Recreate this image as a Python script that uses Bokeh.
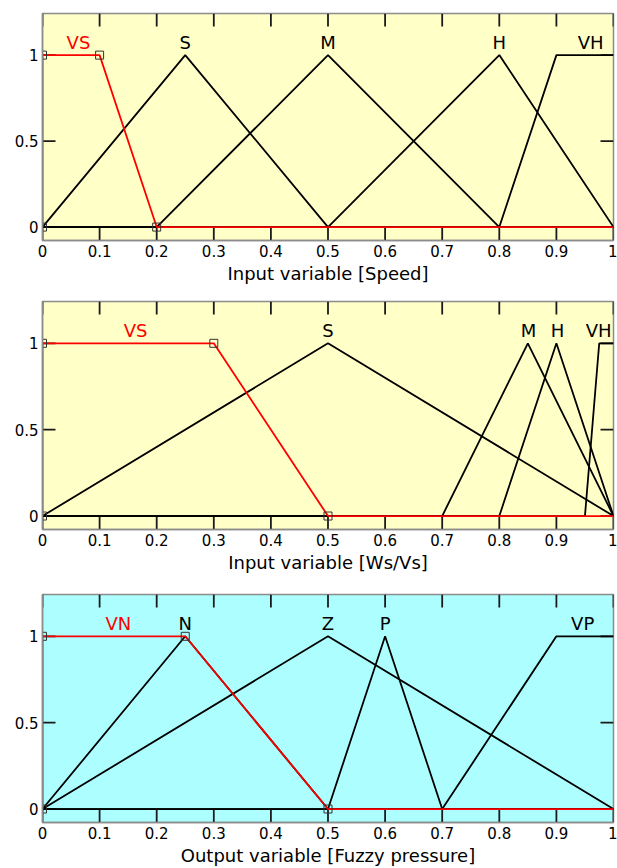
from bokeh.plotting import figure
from bokeh.layouts import column
from bokeh.models import (FixedTicker, CustomJSTickFormatter,
                          ColumnDataSource, Range1d)
from bokeh.core.properties import value
from bokeh.embed import file_html
from bokeh.resources import INLINE

# ---------------- data ----------------
x_ticks = [0, 0.1, 0.2, 0.3, 0.4, 0.5, 0.6, 0.7, 0.8, 0.9, 1.0]
y_ticks = [0, 0.5, 1]

# trapezoid breakpoints [a, b, c, d] of each membership function
speed_names = ["VS", "S", "M", "H", "VH"]
speed_params = [[0, 0, 0.1, 0.2], [0, 0.25, 0.25, 0.5], [0.2, 0.5, 0.5, 0.8],
                [0.5, 0.8, 0.8, 1.0], [0.8, 0.9, 1.0, 1.0]]
speed_label_x = [0.063, 0.25, 0.5, 0.8, 0.96]

ratio_names = ["VS", "S", "M", "H", "VH"]
ratio_params = [[0, 0, 0.3, 0.5], [0, 0.5, 0.5, 1.0], [0.7, 0.85, 0.85, 1.0],
                [0.8, 0.9, 0.9, 1.0], [0.95, 0.975, 1.0, 1.0]]
ratio_label_x = [0.163, 0.5, 0.851, 0.902, 0.974]

press_names = ["VN", "N", "Z", "P", "VP"]
press_params = [[0, 0, 0.25, 0.5], [0, 0.25, 0.25, 0.5], [0, 0.5, 0.5, 1.0],
                [0.5, 0.6, 0.6, 0.7], [0.7, 0.9, 1.0, 1.0]]
press_label_x = [0.133, 0.25, 0.5, 0.6, 0.946]

label_y = 1.075

FONT = "DejaVu Sans"
FRAME_COL = "#8c8c8c"
TICK_LEN = 13  # inward tick length in screen pixels
FIG_W, B_LEFT, B_RIGHT = 617, 42, 4
NAN = float("nan")


def mf_polyline(prm):
    a, b, c, d = prm
    if d >= 1.0 and c >= 1.0:
        return [0, a, b, 1.0], [0, 0, 1, 1]
    return [0, a, b, c, d, 1.0], [0, 0, 1, 1, 0, 0]


def fmt():
    return CustomJSTickFormatter(code="return String(Math.round(tick*10)/10);")


def tick_path(positions, start, length, vertical):
    """one broken polyline holding a short stroke for every tick position"""
    xs, ys = [], []
    for t in positions:
        if vertical:
            xs += [t, t, NAN]
            ys += [start, start + length, NAN]
        else:
            xs += [start, start + length, NAN]
            ys += [t, t, NAN]
    return xs[:-1], ys[:-1]


def make_panel(names, params, label_x, xlabel, bg, height, btop, bbottom):
    xr = Range1d(0, 1)
    yr = Range1d(-0.078, 1.242)
    p = figure(width=FIG_W, height=height, output_backend="svg",
               toolbar_location=None, x_range=xr, y_range=yr,
               min_border_left=B_LEFT, min_border_right=B_RIGHT,
               min_border_top=btop, min_border_bottom=bbottom)
    p.background_fill_color = bg
    p.border_fill_color = "white"
    p.outline_line_color = FRAME_COL
    p.outline_line_width = 1.5
    p.grid.visible = False

    for ax in (p.xaxis[0], p.yaxis[0]):
        ax.major_tick_in = 0
        ax.major_tick_out = 0
        ax.minor_tick_line_color = None
        ax.axis_line_color = FRAME_COL
        ax.axis_line_width = 1.5
        ax.major_label_text_font = FONT
        ax.major_label_text_font_size = "15px"
        ax.major_label_text_color = "black"
        ax.formatter = fmt()
    p.xaxis[0].ticker = FixedTicker(ticks=x_ticks)
    p.yaxis[0].ticker = FixedTicker(ticks=y_ticks)
    p.xaxis[0].major_label_standoff = 4
    p.yaxis[0].major_label_standoff = 4
    p.xaxis[0].axis_label = xlabel
    p.xaxis[0].axis_label_text_font = FONT
    p.xaxis[0].axis_label_text_font_size = "18px"
    p.xaxis[0].axis_label_text_font_style = "normal"
    p.xaxis[0].axis_label_text_color = "black"
    p.xaxis[0].axis_label_standoff = 3

    # inward tick marks on all four sides, TICK_LEN pixels long
    frame_h = height - btop - bbottom
    frame_w = FIG_W - B_LEFT - B_RIGHT
    dy = TICK_LEN * (yr.end - yr.start) / frame_h
    dx = TICK_LEN * (xr.end - xr.start) / frame_w
    for (pos, st, ln, vert) in ((x_ticks, yr.start, dy, True),
                                (x_ticks, yr.end, -dy, True),
                                (y_ticks, xr.start, dx, False),
                                (y_ticks, xr.end, -dx, False)):
        txs, tys = tick_path(pos, st, ln, vert)
        p.line(txs, tys, line_color="#1a1a1a", line_width=1.8)

    # black membership functions first, the selected (first) one in red on top
    for prm in params[1:]:
        xs, ys = mf_polyline(prm)
        p.line(xs, ys, line_color="black", line_width=1.8)
    xs, ys = mf_polyline(params[0])
    p.line(xs, ys, line_color="#ff0000", line_width=1.8)
    a, b, c, d = params[0]
    p.scatter([a, b, c, d], [0, 1, 1, 0], marker="square", size=8,
              fill_color=None, line_color="#333333", line_width=1)

    src = ColumnDataSource(dict(x=label_x, y=[label_y] * len(names), t=names,
                                c=["#ff0000"] + ["black"] * (len(names) - 1)))
    p.text(x="x", y="y", text="t", source=src, text_color="c",
           text_font=value(FONT), text_font_size=value("18px"),
           text_align="center", text_baseline="middle")
    return p


p1 = make_panel(speed_names, speed_params, speed_label_x,
                "Input variable [Speed]", "#ffffc8", 290, 13, 50)
p2 = make_panel(ratio_names, ratio_params, ratio_label_x,
                "Input variable [Ws/Vs]", "#ffffc8", 294, 11, 55)
p3 = make_panel(press_names, press_params, press_label_x,
                "Output variable [Fuzzy pressure]", "#adffff", 284, 10, 46)

layout = column(p1, p2, p3, spacing=0)
open("out.html", "w").write(file_html(layout, INLINE))
